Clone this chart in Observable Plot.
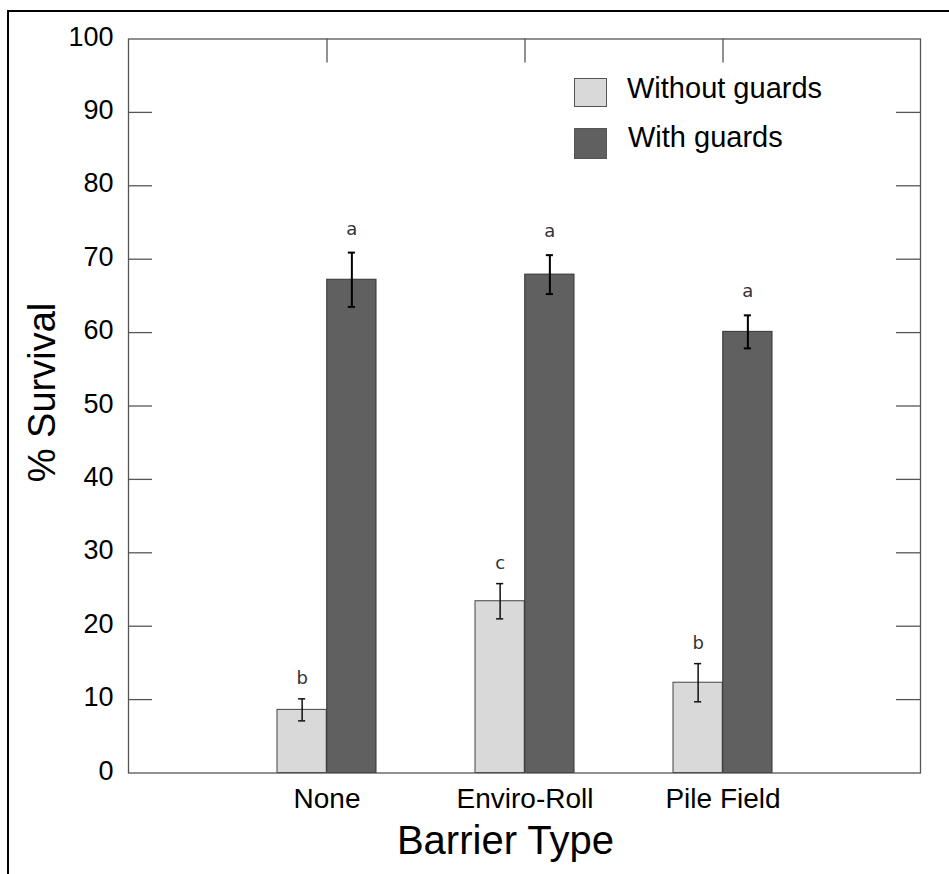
<!DOCTYPE html>
<html>
<head>
<meta charset="utf-8">
<script src="https://cdn.jsdelivr.net/npm/d3@7"></script>
<script src="https://cdn.jsdelivr.net/npm/@observablehq/plot@0.6"></script>
<style>
  html, body { margin: 0; padding: 0; background: #fff; overflow: hidden; }
  #wrap { position: relative; width: 949px; height: 874px; font-family: "Liberation Sans", Arial, sans-serif; }
  #outer { position: absolute; left: 7px; top: 10px; width: 1000px; height: 1000px;
           border-top: 2px solid #000; border-left: 2px solid #000; pointer-events: none; box-sizing: border-box; }
  #chart { position: absolute; left: 0; top: 0; }
  .sw { position: absolute; box-sizing: border-box; border: 1px solid #555; }
  .lt { position: absolute; font-size: 29px; line-height: 29px; color: #000; white-space: nowrap; }
</style>
</head>
<body>
<div id="wrap">
  <div id="chart"></div>
  <div id="legend"></div>
  <div id="outer"></div>
</div>
<script>
// ---- data ----
const categories = ["None", "Enviro-Roll", "Pile Field"];
const seriesNames = ["Without guards", "With guards"];
const seriesColors = ["#d9d9d9", "#606060"];
const withoutMeans = [8.6, 23.4, 12.3];
const withoutErrors = [1.5, 2.4, 2.6];
const withoutLetters = ["b", "c", "b"];
const withMeans = [67.2, 67.9, 60.1];
const withErrors = [3.7, 2.65, 2.25];
const withLetters = ["a", "a", "a"];
const yTicks = [0, 10, 20, 30, 40, 50, 60, 70, 80, 90, 100];
const yInnerTicks = [10, 20, 30, 40, 50, 60, 70, 80, 90];
const yLabel = "% Survival";
const xLabel = "Barrier Type";

const withoutRows = categories.map((c, i) => ({cat: c, mean: withoutMeans[i], err: withoutErrors[i], letter: withoutLetters[i]}));
const withRows = categories.map((c, i) => ({cat: c, mean: withMeans[i], err: withErrors[i], letter: withLetters[i]}));

// ---- layout ----
const W = 949, H = 874;
const mL = 128, mR = 29, mT = 38.5, mB = 101.5;
const innerW = W - mL - mR, innerH = H - mT - mB;
const pIn = 0.5, pOut = 0.74;
const step = innerW / (categories.length - pIn + 2 * pOut);
const bw = step * (1 - pIn);
const half = bw / 2;
const off = bw / 4;
const capHalf = 3.8;
const tickLen = 24;
const axisColor = "#555";

const chart = Plot.plot({
  width: W,
  height: H,
  marginLeft: mL,
  marginRight: mR,
  marginTop: mT,
  marginBottom: mB,
  style: {fontFamily: "'Liberation Sans', Arial, sans-serif", color: "#000", background: "transparent"},
  x: {domain: categories, paddingInner: pIn, paddingOuter: pOut},
  y: {domain: [0, 100]},
  marks: [
    // bars
    Plot.barY(withoutRows, {x: "cat", y: "mean", fill: seriesColors[0], stroke: "#444", strokeWidth: 1, insetRight: half}),
    Plot.barY(withRows, {x: "cat", y: "mean", fill: seriesColors[1], stroke: "#333", strokeWidth: 1, insetLeft: half}),
    // error bars
    Plot.ruleX(withoutRows, {x: "cat", y1: d => d.mean - d.err, y2: d => d.mean + d.err, dx: -off, stroke: "#111", strokeWidth: 1.5}),
    Plot.tickY(withoutRows, {x: "cat", y: d => d.mean + d.err, dx: -off, insetLeft: half - capHalf, insetRight: half - capHalf, stroke: "#111", strokeWidth: 1.5}),
    Plot.tickY(withoutRows, {x: "cat", y: d => d.mean - d.err, dx: -off, insetLeft: half - capHalf, insetRight: half - capHalf, stroke: "#111", strokeWidth: 1.5}),
    Plot.ruleX(withRows, {x: "cat", y1: d => d.mean - d.err, y2: d => d.mean + d.err, dx: off, stroke: "#000", strokeWidth: 2}),
    Plot.tickY(withRows, {x: "cat", y: d => d.mean + d.err, dx: off, insetLeft: half - capHalf, insetRight: half - capHalf, stroke: "#000", strokeWidth: 2}),
    Plot.tickY(withRows, {x: "cat", y: d => d.mean - d.err, dx: off, insetLeft: half - capHalf, insetRight: half - capHalf, stroke: "#000", strokeWidth: 2}),
    // significance letters
    Plot.text(withoutRows, {x: "cat", y: d => d.mean + d.err, text: "letter", dx: -off, dy: -15, lineAnchor: "bottom", fontSize: 18, fontFamily: "DejaVu Sans", fill: "#333"}),
    Plot.text(withRows, {x: "cat", y: d => d.mean + d.err, text: "letter", dx: off, dy: -18, lineAnchor: "bottom", fontSize: 18, fontFamily: "DejaVu Sans", fill: "#333"}),
    // frame and inward ticks
    Plot.frame({stroke: axisColor, strokeWidth: 1.3}),
    Plot.tickY(yInnerTicks, {y: d => d, insetRight: innerW - tickLen, stroke: axisColor, strokeWidth: 1.3}),
    Plot.tickY(yInnerTicks, {y: d => d, insetLeft: innerW - tickLen, stroke: axisColor, strokeWidth: 1.3}),
    Plot.tickX(categories, {x: d => d, insetBottom: innerH - tickLen, stroke: axisColor, strokeWidth: 1.3}),
    // axes
    Plot.axisY(yTicks, {tickSize: 0, tickPadding: 15, fontSize: 27, dy: -2, label: null, fill: "#000"}),
    Plot.axisX({tickSize: 0, tickPadding: 15, fontSize: 28, label: null, fill: "#000"}),
    // axis titles
    Plot.text([yLabel], {frameAnchor: "left", textAnchor: "middle", lineAnchor: "middle", dx: 42 - mL, dy: -13.5, rotate: -90, fontSize: 38, fill: "#000"}),
    Plot.text([xLabel], {frameAnchor: "bottom", textAnchor: "middle", lineAnchor: "bottom", dx: -19, dy: 81, fontSize: 40, fill: "#000"})
  ]
});
document.getElementById("chart").appendChild(chart);

// ---- legend (inside plot area) ----
const legend = document.getElementById("legend");
const legendItems = [
  {name: seriesNames[0], color: seriesColors[0], sx: 574, sy: 78, sw: 33, sh: 29, tx: 627, ty: 73.7},
  {name: seriesNames[1], color: seriesColors[1], sx: 574, sy: 128, sw: 33, sh: 31, tx: 628, ty: 123.1}
];
legendItems.forEach(it => {
  const s = document.createElement("div");
  s.className = "sw";
  Object.assign(s.style, {left: it.sx + "px", top: it.sy + "px", width: it.sw + "px", height: it.sh + "px", background: it.color});
  legend.appendChild(s);
  const t = document.createElement("div");
  t.className = "lt";
  Object.assign(t.style, {left: it.tx + "px", top: it.ty + "px"});
  t.textContent = it.name;
  legend.appendChild(t);
});
</script>
</body>
</html>
